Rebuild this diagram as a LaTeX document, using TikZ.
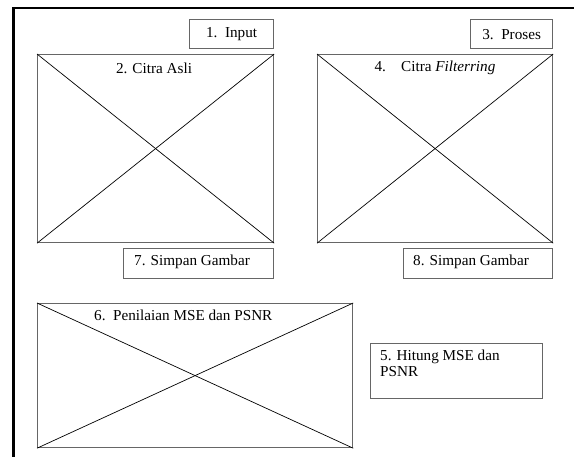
\documentclass[tikz,border=0pt]{standalone}
\usepackage{fontspec}
\setmainfont{Liberation Serif}
\begin{document}
\begin{tikzpicture}[x=1pt,y=-1pt,
  box/.style={draw=black!60, line width=1.2pt, inner sep=0pt, anchor=north west},
  diag/.style={draw=black, line width=0.7pt},
  lbl/.style={font=\fontsize{15.2}{16}\selectfont, inner sep=0pt, text=black}]
\useasboundingbox (0,0) rectangle (574,456);
\clip (0,0) rectangle (574,456);
% outer frame
\coordinate (fbl) at (13.5,470);
\coordinate (ftl) at (13.5,8);
\coordinate (ftr) at (590,8);
\draw[line width=2.7pt] (fbl) -- (ftl) -- (ftr);
% small boxes
\node[box, minimum width=84pt, minimum height=29pt] (input) at (189,19) {};
\node[lbl] (inputt) at (input.center) {1.\ \ Input};
\node[box, minimum width=82pt, minimum height=29pt] (proses) at (470,19) {};
\node[lbl] (prosest) at (proses.center) {3.\ \ Proses};
% image box 1
\node[box, minimum width=236pt, minimum height=188pt] (img1) at (37,54) {};
\draw[diag] (img1.north west) -- (img1.south east);
\draw[diag] (img1.south west) -- (img1.north east);
\node[lbl] (img1t) at (154,68) {2. Citra Asli};
% image box 2
\node[box, minimum width=235pt, minimum height=188pt] (img2) at (317,54) {};
\draw[diag] (img2.north west) -- (img2.south east);
\draw[diag] (img2.south west) -- (img2.north east);
\node[lbl] (img2t) at (435,68) {4.\ \ \ \ Citra \textit{Filterring}};
% save boxes
\node[box, minimum width=150pt, minimum height=30pt] (save1) at (123,248) {};
\node[lbl, anchor=west] (save1t) at (134,262) {7. Simpan Gambar};
\node[box, minimum width=149pt, minimum height=30pt] (save2) at (403,248) {};
\node[lbl, anchor=west] (save2t) at (413,262) {8. Simpan Gambar};
% evaluation box
\node[box, minimum width=315pt, minimum height=144pt] (eval) at (37,303) {};
\draw[diag] (eval.north west) -- (eval.south east);
\draw[diag] (eval.south west) -- (eval.north east);
\node[lbl, anchor=west] (evalt) at (94,315) {6.\ \ Penilaian MSE dan PSNR};
% hitung box
\node[box, minimum width=172pt, minimum height=55pt] (hit) at (370,343) {};
\node[lbl, anchor=north west, align=left] (hitt) at (380,350) {5. Hitung MSE dan\\PSNR};
\end{tikzpicture}
\end{document}
